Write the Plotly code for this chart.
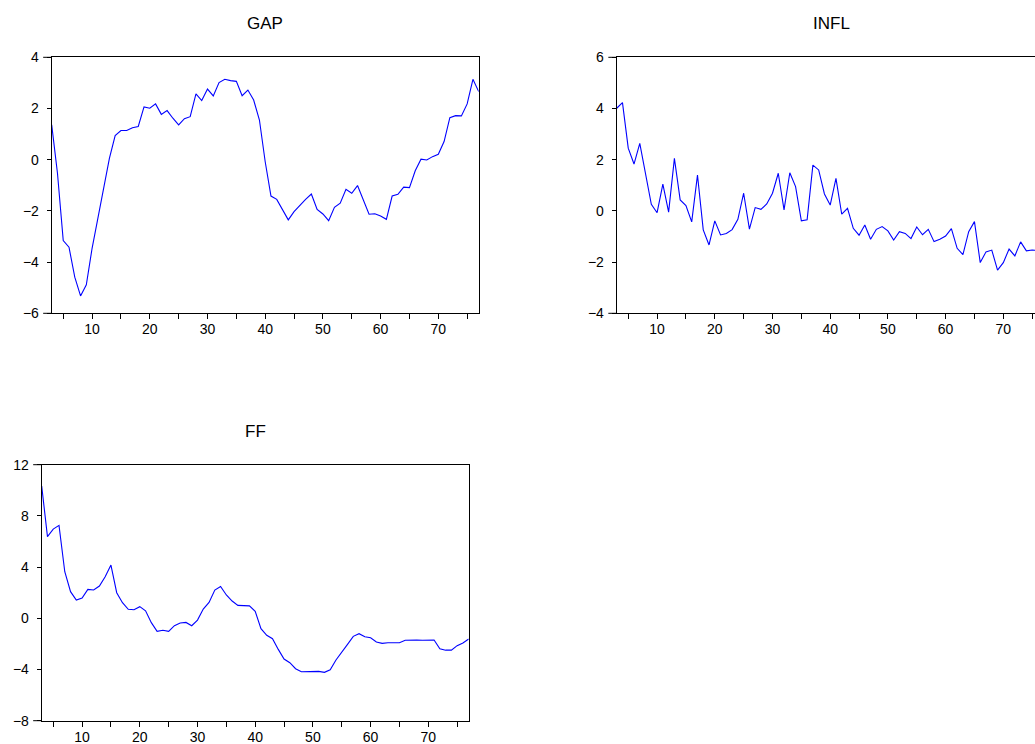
import plotly.graph_objects as go

obs = list(range(3, 78))

gap = [1.36, -0.53, -3.16, -3.42, -4.59, -5.32, -4.89, -3.46, -2.29, -1.05,
       0.05, 0.94, 1.14, 1.14, 1.25, 1.30, 2.06, 2.01, 2.18, 1.77,
       1.92, 1.62, 1.36, 1.60, 1.68, 2.57, 2.31, 2.76, 2.49, 3.01,
       3.14, 3.09, 3.06, 2.50, 2.72, 2.33, 1.55, -0.08, -1.42, -1.55,
       -1.94, -2.35, -2.03, -1.77, -1.55, -1.34, -1.94, -2.12, -2.38, -1.86,
       -1.70, -1.16, -1.31, -1.01, -1.57, -2.13, -2.11, -2.20, -2.33, -1.42,
       -1.35, -1.07, -1.09, -0.43, 0.02, -0.01, 0.12, 0.21, 0.71, 1.64,
       1.72, 1.71, 2.18, 3.14, 2.66]

infl = [4.01, 4.23, 2.45, 1.83, 2.64, 1.40, 0.26, -0.07, 1.05, -0.05,
        2.05, 0.43, 0.21, -0.43, 1.40, -0.74, -1.33, -0.39, -0.94, -0.88,
        -0.73, -0.33, 0.69, -0.71, 0.13, 0.06, 0.27, 0.69, 1.47, 0.04,
        1.49, 0.95, -0.39, -0.35, 1.79, 1.60, 0.66, 0.23, 1.27, -0.13,
        0.10, -0.68, -0.95, -0.55, -1.11, -0.72, -0.61, -0.78, -1.14, -0.81,
        -0.88, -1.08, -0.63, -0.93, -0.72, -1.20, -1.11, -0.98, -0.69, -1.46,
        -1.71, -0.81, -0.42, -2.02, -1.60, -1.53, -2.31, -2.02, -1.49, -1.76,
        -1.21, -1.56, -1.53, -1.55, -1.50]

ff = [10.33, 6.38, 6.97, 7.26, 3.64, 2.08, 1.43, 1.58, 2.26, 2.21,
      2.52, 3.25, 4.16, 2.00, 1.22, 0.70, 0.67, 0.91, 0.59, -0.34,
      -1.02, -0.94, -1.02, -0.58, -0.37, -0.32, -0.58, -0.14, 0.72, 1.24,
      2.21, 2.49, 1.82, 1.35, 1.01, 1.01, 0.97, 0.54, -0.81, -1.33,
      -1.59, -2.43, -3.18, -3.47, -3.94, -4.17, -4.17, -4.20, -4.15, -4.22,
      -4.02, -3.26, -2.69, -2.04, -1.41, -1.20, -1.44, -1.52, -1.85, -1.96,
      -1.91, -1.91, -1.91, -1.72, -1.70, -1.70, -1.72, -1.72, -1.70, -2.38,
      -2.49, -2.49, -2.14, -1.93, -1.62]

titles = ["GAP", "INFL", "FF"]
x_tickvals = list(range(5, 80, 5))
x_ticktext = [str(v) if v % 10 == 0 else "" for v in x_tickvals]

W, H = 1035, 744
def px(x):
    return x / W
def py(y):
    return 1 - y / H

FONT = "Liberation Sans, Arial, sans-serif"
BLUE = "#0000FF"

fig = go.Figure()
fig.add_trace(go.Scatter(x=obs, y=gap, mode="lines", line=dict(color=BLUE, width=1.1),
                         xaxis="x", yaxis="y", showlegend=False))
fig.add_trace(go.Scatter(x=obs, y=infl, mode="lines", line=dict(color=BLUE, width=1.1),
                         xaxis="x2", yaxis="y2", showlegend=False))
fig.add_trace(go.Scatter(x=obs, y=ff, mode="lines", line=dict(color=BLUE, width=1.1),
                         xaxis="x3", yaxis="y3", showlegend=False))

common_x = dict(tickvals=x_tickvals, ticktext=x_ticktext, ticks="outside", ticklen=5,
                tickcolor="black", tickwidth=1, showline=True, linecolor="black", linewidth=1,
                showgrid=False, zeroline=False, automargin=False,
                tickfont=dict(family=FONT, size=14, color="black"),
                ticklabelstandoff=-2)
common_y = dict(ticks="outside", ticklen=4, tickcolor="black", tickwidth=1, showline=True,
                linecolor="black", linewidth=1, showgrid=False, zeroline=False, automargin=False,
                tickfont=dict(family=FONT, size=14, color="black"), ticklabelstandoff=5)

unit = 427.0 / 74.0
infl_right = 3 + (W - 616.7) / unit

fig.update_layout(
    width=W, height=H, margin=dict(l=0, r=0, t=0, b=0, autoexpand=False),
    plot_bgcolor="white", paper_bgcolor="white",
    xaxis=dict(domain=[px(51.7), px(478.7)], range=[3, 77], mirror=True, anchor="y", **common_x),
    yaxis=dict(domain=[py(313.3), py(57.3)], range=[-6, 4], dtick=2, mirror=True, anchor="x", **common_y),
    xaxis2=dict(domain=[px(616.7), 1.0], range=[3, infl_right], mirror=True, anchor="y2", **common_x),
    yaxis2=dict(domain=[py(313.3), py(57.3)], range=[-4, 6], dtick=2, mirror=False, anchor="x2", **common_y),
    xaxis3=dict(domain=[px(41.7), px(468.7)], range=[3, 77], mirror=True, anchor="y3", **common_x),
    yaxis3=dict(domain=[py(720.7), py(464.7)], range=[-8, 12], dtick=4, mirror=True, anchor="x3", **common_y),
)

# longer end ticks at the top and bottom of each value axis (EViews style)
for xa, ya, ext in [("x", "y", 0.020), ("x2", "y2", 0.020), ("x3", "y3", 0.020)]:
    for yv in (0, 1):
        fig.add_shape(type="line", xref=f"{xa} domain", yref=f"{ya} domain",
                      x0=-ext, x1=0, y0=yv, y1=yv, line=dict(color="black", width=1))

title_pos = [(265, 24), (831, 24), (255, 431)]
for t, (x, y) in zip(titles, title_pos):
    fig.add_annotation(text=t, x=px(x), y=py(y), xref="paper", yref="paper",
                       showarrow=False, xanchor="center", yanchor="middle",
                       font=dict(family=FONT, size=17, color="black"))

fig.write_html("out.html")
